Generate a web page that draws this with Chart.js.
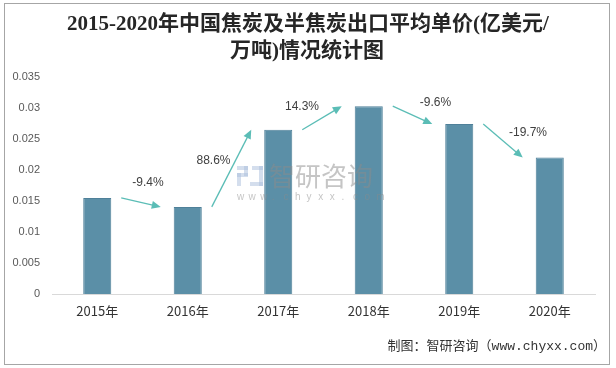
<!DOCTYPE html>
<html>
<head>
<meta charset="utf-8">
<script src="https://cdn.jsdelivr.net/npm/chart.js@4.4.0/dist/chart.umd.min.js"></script>
<style>
    html, body { margin: 0; padding: 0; background: #fff; }
    #wrap { width: 616px; height: 368px; position: relative; }
</style>
</head>
<body>
<div id="wrap"><canvas id="chart" width="616" height="368"></canvas></div>
<script>
const years = ['2015年', '2016年', '2017年', '2018年', '2019年', '2020年'];
const prices = [0.0155, 0.01405, 0.0265, 0.0303, 0.0274, 0.022];
const growth = ['-9.4%', '88.6%', '14.3%', '-9.6%', '-19.7%'];
const yTicks = [0, 0.005, 0.01, 0.015, 0.02, 0.025, 0.03, 0.035];

const titleLines = ['2015-2020年中国焦炭及半焦炭出口平均单价(亿美元/', '万吨)情况统计图'];
const footer = '制图：智研咨询（www.chyxx.com）';

const cjk = '"Noto Sans CJK SC", sans-serif';
const arrowColor = '#5bbdb6';
// where each growth label sits relative to its arrow midpoint
const labelShift = [[7, -20], [-18, -8], [-20, -11], [23, -12], [25, -8]];

const decor = {
    id: 'decor',
    beforeDraw(chart) {
        const ctx = chart.ctx;
        ctx.save();
        ctx.fillStyle = '#fff';
        ctx.fillRect(0, 0, chart.width, chart.height);
        ctx.strokeStyle = '#a6a6a6';
        ctx.lineWidth = 1;
        ctx.strokeRect(4.5, 3.5, 605, 361);

        ctx.fillStyle = '#262626';
        ctx.textAlign = 'center';
        ctx.textBaseline = 'middle';
        ctx.font = 'bold 21px "Liberation Serif", "Noto Sans CJK SC", serif';
        ctx.fillText(titleLines[0], 308, 25);
        ctx.fillText(titleLines[1], 307, 52);

        ctx.font = '13px "Liberation Mono", "Noto Sans CJK SC", monospace';
        ctx.textAlign = 'right';
        ctx.fillStyle = '#333';
        ctx.fillText(footer, 606, 347);
        ctx.restore();
    },
    afterDatasetsDraw(chart) {
        const ctx = chart.ctx;
        const meta = chart.getDatasetMeta(0);
        ctx.save();

        // watermark
        ctx.globalAlpha = 0.5;
        ctx.fillStyle = '#a9bedb';
        ctx.fillRect(237, 166, 11, 4);
        ctx.fillRect(244, 166, 4, 10);
        ctx.fillRect(237, 173, 11, 4);
        ctx.fillRect(237, 173, 4, 13);
        ctx.fillRect(252, 166, 11, 4);
        ctx.fillRect(259, 166, 4, 20);
        ctx.fillRect(250, 182, 13, 4);
        ctx.fillStyle = '#8c8c8c';
        ctx.font = '26px ' + cjk;
        ctx.textAlign = 'left';
        ctx.textBaseline = 'middle';
        ctx.fillText('智研咨询', 269, 176);
        ctx.font = '10px "Liberation Sans", sans-serif';
        const site = 'www.chyxx.com';
        for (let i = 0; i < site.length; i++) {
            ctx.fillText(site[i], 237 + i * 11.6, 197);
        }
        ctx.globalAlpha = 1;

        // growth arrows between bar tops
        for (let i = 0; i < growth.length; i++) {
            const a = meta.data[i], b = meta.data[i + 1];
            const x0 = a.x + 24, y0 = a.y;
            const x1 = b.x - 27, y1 = b.y;
            const ang = Math.atan2(y1 - y0, x1 - x0);
            const head = 9;
            ctx.strokeStyle = arrowColor;
            ctx.fillStyle = arrowColor;
            ctx.lineWidth = 1.3;
            ctx.beginPath();
            ctx.moveTo(x0, y0);
            ctx.lineTo(x1 - Math.cos(ang) * head * 0.8, y1 - Math.sin(ang) * head * 0.8);
            ctx.stroke();
            ctx.beginPath();
            ctx.moveTo(x1, y1);
            ctx.lineTo(x1 - head * Math.cos(ang) + 4 * Math.sin(ang), y1 - head * Math.sin(ang) - 4 * Math.cos(ang));
            ctx.lineTo(x1 - head * Math.cos(ang) - 4 * Math.sin(ang), y1 - head * Math.sin(ang) + 4 * Math.cos(ang));
            ctx.closePath();
            ctx.fill();

            ctx.fillStyle = '#404040';
            ctx.font = '12px "Liberation Sans", sans-serif';
            ctx.textAlign = 'center';
            ctx.fillText(growth[i], (x0 + x1) / 2 + labelShift[i][0], (y0 + y1) / 2 + labelShift[i][1]);
        }
        ctx.restore();
    }
};

new Chart(document.getElementById('chart'), {
    type: 'bar',
    data: {
        labels: years,
        datasets: [{
            data: prices,
            backgroundColor: '#5b8fa7',
            borderColor: '#4f8099',
            borderWidth: 1,
            barPercentage: 0.31,
            categoryPercentage: 1
        }]
    },
    options: {
        responsive: false,
        animation: false,
        layout: { padding: { top: 77, left: 12, right: 21, bottom: 0 } },
        plugins: { legend: { display: false }, tooltip: { enabled: false } },
        scales: {
            x: {
                grid: { display: false, drawTicks: false },
                border: { color: '#d9d9d9', width: 1 },
                ticks: { color: '#333', font: { size: 13, family: cjk }, padding: 9 },
                afterFit: s => { s.height = 74; }
            },
            y: {
                min: 0,
                max: 0.035,
                grid: { display: false, drawTicks: false },
                border: { display: false },
                afterBuildTicks: s => { s.ticks = yTicks.map(v => ({ value: v })); },
                ticks: {
                    color: '#595959',
                    font: { size: 11, family: '"Liberation Sans", sans-serif' },
                    padding: 12,
                    callback: v => String(+v.toFixed(3))
                },
                afterFit: s => { s.width = 40; }
            }
        }
    },
    plugins: [decor]
});
</script>
</body>
</html>
